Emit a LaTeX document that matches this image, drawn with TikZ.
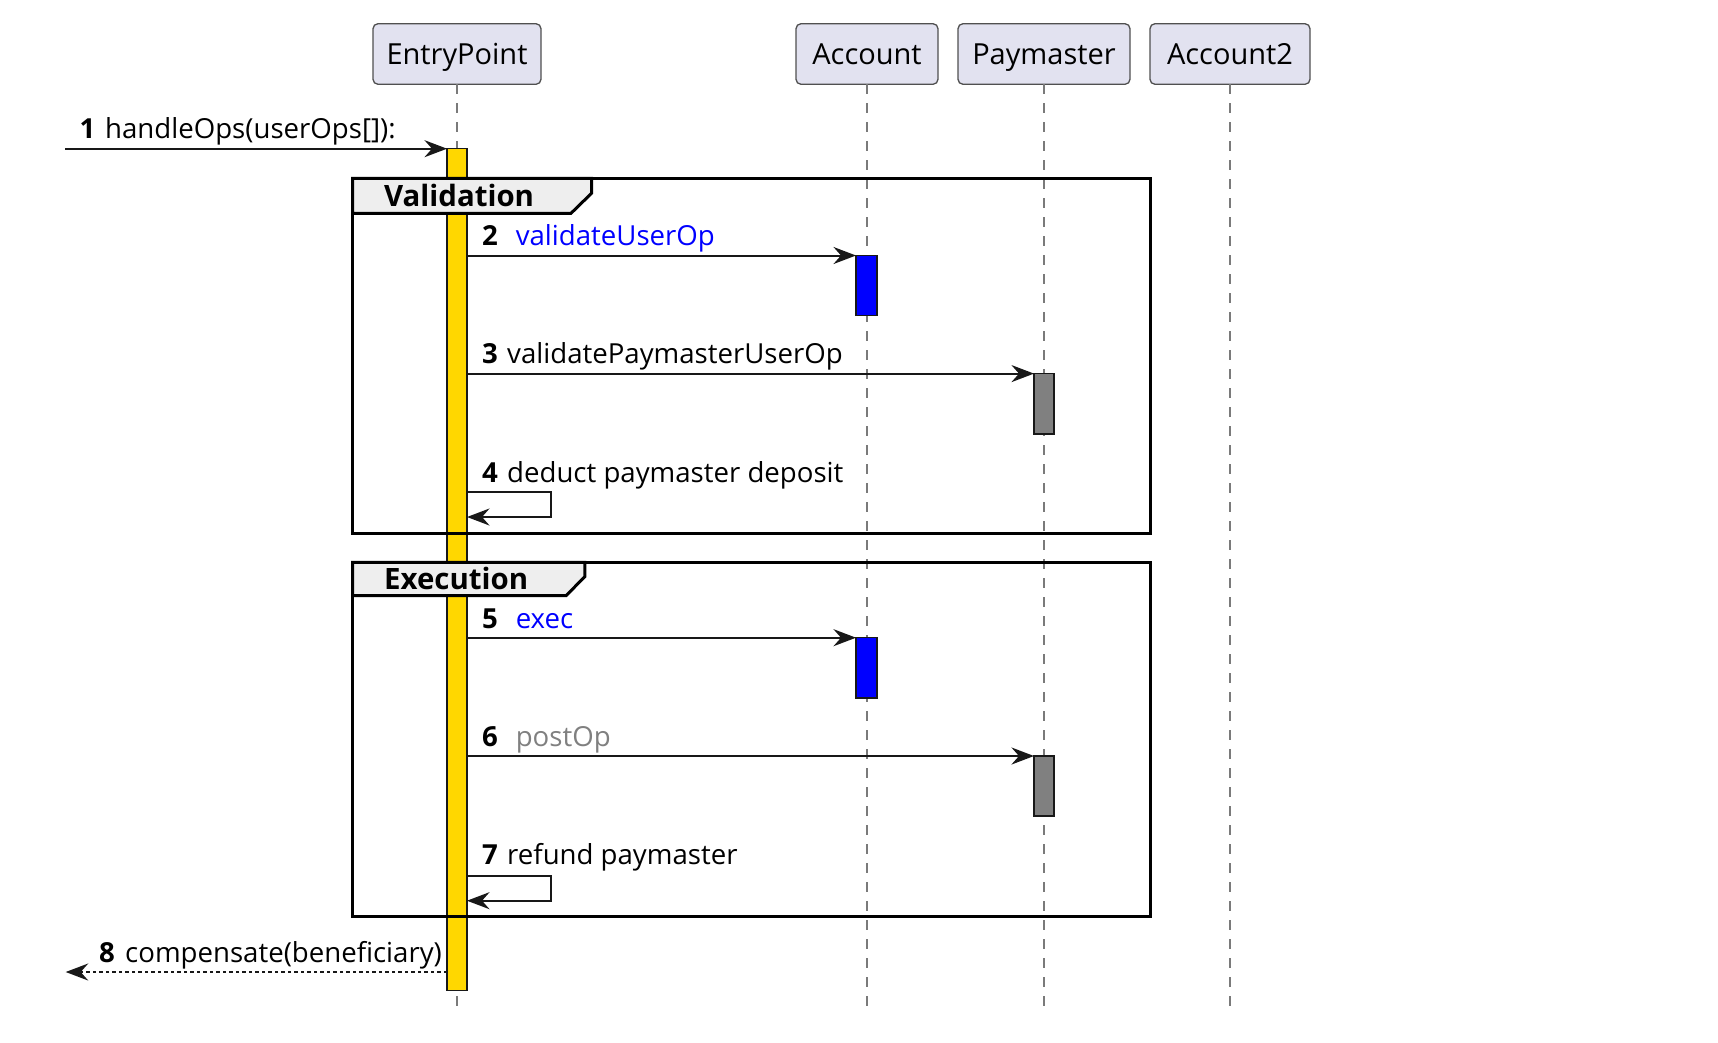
\documentclass[tikz,border=0pt]{standalone}
\usepackage{fontspec}
\setmainfont{Open Sans}
\usetikzlibrary{arrows.meta}
\definecolor{hdrfill}{HTML}{E2E2F0}
\definecolor{hdrdraw}{HTML}{505050}
\definecolor{dark}{HTML}{181818}
\definecolor{lifegray}{HTML}{7A7A7A}
\definecolor{gold}{HTML}{FFD700}
\definecolor{tabfill}{HTML}{EEEEEE}
\definecolor{pgray}{HTML}{808080}
\begin{document}
\begin{tikzpicture}[x=1pt,y=-1pt,
  txt/.style={font=\fontsize{27.6}{32}\selectfont},
  part/.style={font=\fontsize{29}{34}\selectfont, draw=hdrdraw, line width=1.3pt, fill=hdrfill, rounded corners=5pt,
     minimum height=60.6pt, inner sep=0pt, outer sep=0pt, text height=26pt, text depth=6pt},
  life/.style={draw=lifegray, line width=1.5pt, dash pattern=on 9.5pt off 9.5pt},
  act/.style={draw=dark, line width=1.5pt, inner sep=0pt, outer sep=0pt, minimum width=20pt, anchor=north},
  msg/.style={draw=dark, line width=2pt, -{Stealth[length=22.5pt,width=17pt,inset=7.5pt]}},
  num/.style={font=\fontsize{27.6}{32}\selectfont\bfseries, anchor=base west, inner sep=0pt},
  lbl/.style={txt, anchor=base west, inner sep=0pt},
  frm/.style={draw=black, line width=3pt},
  tab/.style={draw=black, line width=3pt, fill=tabfill, line join=miter},
  ftitle/.style={font=\fontsize{29.4}{34}\selectfont\bfseries, anchor=base west, inner sep=0pt}
]
\useasboundingbox (0,0) rectangle (1718,1042);
\fill[white] (0,0) rectangle (1718,1042);

% participants
\node[part, minimum width=168pt] (ep) at (457,54) {EntryPoint};
\node[part, minimum width=142pt] (acc) at (867,54) {Account};
\node[part, minimum width=172pt] (pm) at (1044,54) {Paymaster};
\node[part, minimum width=160pt] (acc2) at (1230,54) {Account2};

% lifeline ends
\coordinate (epE) at (457,1008);
\coordinate (accE) at (867,1008);
\coordinate (pmE) at (1044,1008);
\coordinate (acc2E) at (1230,1008);
\draw[life] (ep.south) -- (epE);
\draw[life] (acc.south) -- (accE);
\draw[life] (pm.south) -- (pmE);
\draw[life] (acc2.south) -- (acc2E);

% activations
\node[act, fill=gold, minimum height=841.8pt] (epAct) at (457,148.7) {};
\node[act, fill=blue, minimum height=60pt, minimum width=21pt] (acc1) at (866.5,255.5) {};
\node[act, fill=pgray, minimum height=60.4pt] (pm1) at (1044,373.6) {};
\node[act, fill=blue, minimum height=60.3pt, minimum width=21pt] (acc2a) at (866.5,637.7) {};
\node[act, fill=pgray, minimum height=60pt] (pm2) at (1044,756) {};

% frames
\draw[frm] (352.7,178.3) rectangle (1150,533.6);
\draw[tab] (352.7,178.3) -- (591.5,178.3) -- (591.5,193.3) -- (571,213.3) -- (352.7,213.3) -- cycle;
\node[ftitle] (fval) at (384,206) {Validation};
\draw[frm] (352.7,562.3) rectangle (1150,916);
\draw[tab] (352.7,562.3) -- (584.8,562.3) -- (584.8,576.7) -- (566,595.7) -- (352.7,595.7) -- cycle;
\node[ftitle] (fexe) at (384,589) {Execution};

% message 1
\coordinate (m1s) at (65,148.7);
\draw[msg] (m1s) -- (epAct.north west);
\node[num] (n1) at (79.5,138.5) {1};
\node[lbl] (t1) at (105,138.5) {handleOps(userOps[]):};

% message 2
\draw[msg] (epAct.east |- acc1.north) -- (acc1.north west);
\node[num] (n2) at (482,245.5) {2};
\node[lbl, text=blue] (t2) at (515.6,245.5) {validateUserOp};

% message 3
\draw[msg] (epAct.east |- pm1.north) -- (pm1.north west);
\node[num] (n3) at (482,363.5) {3};
\node[lbl] (t3) at (507,363.5) {validatePaymasterUserOp};

% message 4 (self)
\coordinate (s4) at (467,492);
\coordinate (e4) at (467,517);
\draw[msg] (s4) -- ++(84,0) |- (e4);
\node[num] (n4) at (482,482) {4};
\node[lbl] (t4) at (507,482) {deduct paymaster deposit};

% message 5
\draw[msg] (epAct.east |- acc2a.north) -- (acc2a.north west);
\node[num] (n5) at (482,628) {5};
\node[lbl, text=blue] (t5) at (515.6,628) {exec};

% message 6
\draw[msg] (epAct.east |- pm2.north) -- (pm2.north west);
\node[num] (n6) at (482,746) {6};
\node[lbl, text=pgray] (t6) at (515.6,746) {postOp};

% message 7 (self)
\coordinate (s7) at (467,875.5);
\coordinate (e7) at (467,900.7);
\draw[msg] (s7) -- ++(84,0) |- (e7);
\node[num] (n7) at (482,864.5) {7};
\node[lbl] (t7) at (507,864.5) {refund paymaster};

% message 8 (return)
\coordinate (m8e) at (65.7,972);
\draw[msg, dash pattern=on 3.5pt off 3pt] (epAct.west |- m8e) -- (m8e);
\node[num] (n8) at (99,962.7) {8};
\node[lbl] (t8) at (125,962.7) {compensate(beneficiary)};
\end{tikzpicture}
\end{document}
